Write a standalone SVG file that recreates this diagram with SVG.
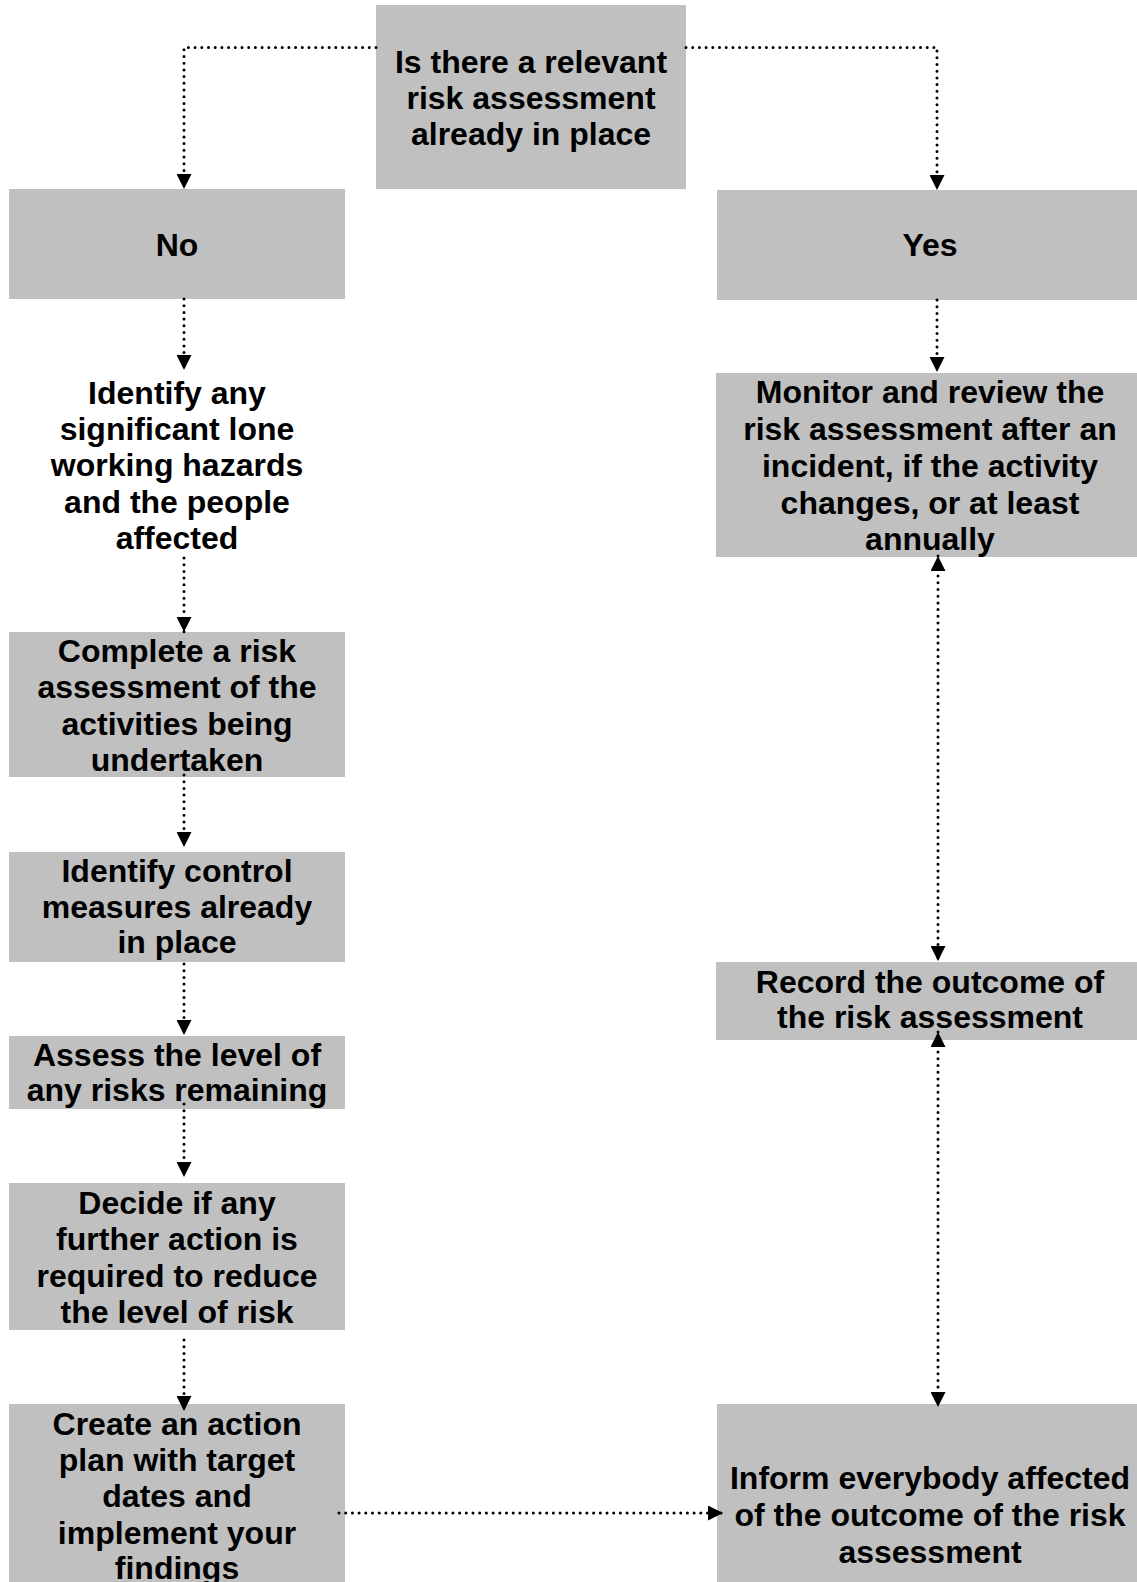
<svg xmlns="http://www.w3.org/2000/svg" width="1137" height="1582" viewBox="0 0 1137 1582">
<defs>
<style>
.box{fill:#c0c0c0;stroke:none}
.t{font-family:"Liberation Sans",Arial,Helvetica,sans-serif;font-weight:bold;font-size:32px;fill:#000;text-anchor:middle}
.c{fill:none;stroke:#000;stroke-width:3;stroke-linecap:round;stroke-dasharray:0 6.7}
.a{marker-end:url(#ah)}
.b{marker-start:url(#ah);marker-end:url(#ah)}
</style>
<marker id="ah" markerUnits="userSpaceOnUse" markerWidth="15" markerHeight="15" refX="15" refY="7.5" orient="auto-start-reverse">
<path d="M0,0 L15,7.5 L0,15 Z" fill="#000"/>
</marker>
</defs>
<rect width="1137" height="1582" fill="#fff"/>
<g id="nodes">
<g id="n-question">
<rect class="box" x="376" y="5" width="310" height="184"/>
<text class="t" x="531"><tspan x="531" y="73">Is there a relevant</tspan><tspan x="531" y="109">risk assessment</tspan><tspan x="531" y="145">already in place</tspan></text>
</g>
<g id="n-no">
<rect class="box" x="9" y="189" width="336" height="110"/>
<text class="t" x="177" y="256">No</text>
</g>
<g id="n-yes">
<rect class="box" x="717" y="190" width="420" height="110"/>
<text class="t" x="930" y="256">Yes</text>
</g>
<g id="n-identify-hazards">
<text class="t"><tspan x="177" y="404">Identify any</tspan><tspan x="177" y="440">significant lone</tspan><tspan x="177" y="476">working hazards</tspan><tspan x="177" y="513">and the people</tspan><tspan x="177" y="549">affected</tspan></text>
</g>
<g id="n-monitor">
<rect class="box" x="716" y="373" width="421" height="184"/>
<text class="t"><tspan x="930" y="403">Monitor and review the</tspan><tspan x="930" y="440">risk assessment after an</tspan><tspan x="930" y="477">incident, if the activity</tspan><tspan x="930" y="514">changes, or at least</tspan><tspan x="930" y="550">annually</tspan></text>
</g>
<g id="n-complete">
<rect class="box" x="9" y="632" width="336" height="145"/>
<text class="t"><tspan x="177" y="662">Complete a risk</tspan><tspan x="177" y="698">assessment of the</tspan><tspan x="177" y="735">activities being</tspan><tspan x="177" y="771">undertaken</tspan></text>
</g>
<g id="n-controls">
<rect class="box" x="9" y="852" width="336" height="110"/>
<text class="t"><tspan x="177" y="882">Identify control</tspan><tspan x="177" y="918">measures already</tspan><tspan x="177" y="953">in place</tspan></text>
</g>
<g id="n-record">
<rect class="box" x="716" y="962" width="421" height="78"/>
<text class="t"><tspan x="930" y="993">Record the outcome of</tspan><tspan x="930" y="1028">the risk assessment</tspan></text>
</g>
<g id="n-assess">
<rect class="box" x="9" y="1036" width="336" height="73"/>
<text class="t"><tspan x="177" y="1066">Assess the level of</tspan><tspan x="177" y="1101">any risks remaining</tspan></text>
</g>
<g id="n-decide">
<rect class="box" x="9" y="1183" width="336" height="147"/>
<text class="t"><tspan x="177" y="1214">Decide if any</tspan><tspan x="177" y="1250">further action is</tspan><tspan x="177" y="1287">required to reduce</tspan><tspan x="177" y="1323">the level of risk</tspan></text>
</g>
<g id="n-create">
<rect class="box" x="9" y="1404" width="336" height="190"/>
<text class="t"><tspan x="177" y="1435">Create an action</tspan><tspan x="177" y="1471">plan with target</tspan><tspan x="177" y="1507">dates and</tspan><tspan x="177" y="1544">implement your</tspan><tspan x="177" y="1579">findings</tspan></text>
</g>
<g id="n-inform">
<rect class="box" x="717" y="1404" width="420" height="190"/>
<text class="t"><tspan x="930" y="1489">Inform everybody affected</tspan><tspan x="930" y="1526">of the outcome of the risk</tspan><tspan x="930" y="1563">assessment</tspan></text>
</g>
</g>
<g id="connectors">
<path class="c a" d="M376,47.5 H184 V189"/>
<path class="c a" d="M686,47.5 H937 V190"/>
<path class="c a" d="M184,299 V370"/>
<path class="c a" d="M937,300 V372"/>
<path class="c a" d="M184,558 V632"/>
<path class="c a" d="M184,775 V847"/>
<path class="c a" d="M184,964 V1035"/>
<path class="c a" d="M184,1104 V1177"/>
<path class="c a" d="M184,1340 V1411"/>
<path class="c a" d="M339,1513 H723"/>
<path class="c b" d="M938,556 V961"/>
<path class="c b" d="M938,1032 V1407"/>
</g>
</svg>
